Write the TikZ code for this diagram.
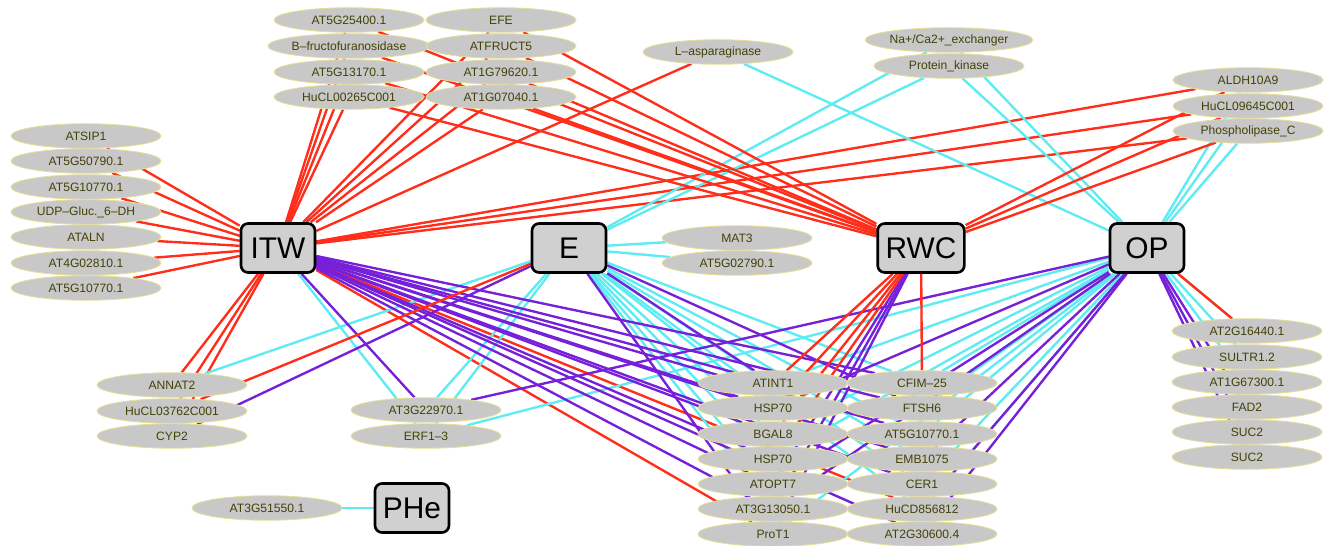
\documentclass[tikz,border=0pt]{standalone}
\usepackage{fontspec}
\setmainfont{Liberation Sans}
\usetikzlibrary{shapes.geometric}
\definecolor{rougelien}{RGB}{255, 45, 25}
\definecolor{cyanlien}{RGB}{95, 235, 242}
\definecolor{violetlien}{RGB}{118, 32, 218}
\definecolor{grisnoeud}{RGB}{200, 200, 200}
\definecolor{bordnoeud}{RGB}{228, 222, 150}
\definecolor{textenoeud}{RGB}{66, 66, 8}
\definecolor{grisboite}{RGB}{208, 208, 208}
\pgfdeclarelayer{fond}
\pgfsetlayers{fond,main}

\begin{document}
\begin{tikzpicture}[x=0.02cm, y=-0.02cm,
    gene/.style={ellipse, draw=bordnoeud, line width=0.5pt, fill=grisnoeud,
      minimum width=3cm, minimum height=0.49cm, inner sep=0pt,
      text=textenoeud, font=\fontsize{6.9}{7}\selectfont},
    trait/.style={rectangle, rounded corners=4pt, draw=black, line width=1.5pt,
      fill=grisboite, minimum width=1.48cm, minimum height=0.98cm,
      inner xsep=4.5pt, font=\fontsize{17}{17}\selectfont},
    lienR/.style={draw=rougelien, line width=1.35pt},
    lienC/.style={draw=cyanlien, line width=1.35pt},
    lienV/.style={draw=violetlien, line width=1.35pt}]
    \useasboundingbox (0,0) rectangle (1324,546);
    % traits
    \node[trait] (itw) at (278,248) {ITW};
    \node[trait] (e) at (569,248) {E};
    \node[trait] (rwc) at (921,248) {RWC};
    \node[trait] (op) at (1147,248) {OP};
    \node[trait] (phe) at (412,508) {PHe};
    % groupe haut
    \node[gene] (g25400) at (349,20) {AT5G25400.1};
    \node[gene] (bfruct) at (349,46) {B--fructofuranosidase};
    \node[gene] (g13170) at (349,72) {AT5G13170.1};
    \node[gene] (hucl265) at (349,97) {HuCL00265C001};
    \node[gene] (efe) at (501,20) {EFE};
    \node[gene] (atfruct) at (501,46) {ATFRUCT5};
    \node[gene] (g79620) at (501,72) {AT1G79620.1};
    \node[gene] (g07040) at (501,97) {AT1G07040.1};
    \node[gene] (lasp) at (718,52) {L--asparaginase};
    \node[gene] (naca) at (949,40) {Na+/Ca2+\_exchanger};
    \node[gene] (pkin) at (949,66) {Protein\_kinase};
    \node[gene] (aldh) at (1248,80) {ALDH10A9};
    \node[gene] (hucl9645) at (1248,106) {HuCL09645C001};
    \node[gene] (plc) at (1248,131) {Phospholipase\_C};
    % groupe gauche
    \node[gene] (atsip) at (86,136) {ATSIP1};
    \node[gene] (g50790) at (86,161) {AT5G50790.1};
    \node[gene] (g10770a) at (86,187) {AT5G10770.1};
    \node[gene] (udp) at (86,212) {UDP--Gluc.\_6--DH};
    \node[gene] (ataln) at (86,237) {ATALN};
    \node[gene] (g02810) at (86,263) {AT4G02810.1};
    \node[gene] (g10770b) at (86,288) {AT5G10770.1};
    % autour de E
    \node[gene] (mat) at (737,238) {MAT3};
    \node[gene] (g02790) at (737,263) {AT5G02790.1};
    \node[gene] (annat) at (172,385) {ANNAT2};
    \node[gene] (hucl3762) at (172,411) {HuCL03762C001};
    \node[gene] (cyp) at (172,436) {CYP2};
    \node[gene] (g22970) at (426,410) {AT3G22970.1};
    \node[gene] (erf) at (426,436) {ERF1--3};
    \node[gene] (g51550) at (267,508) {AT3G51550.1};
    % groupe bas
    \node[gene] (atint) at (773,383) {ATINT1};
    \node[gene] (hspa) at (773,408) {HSP70};
    \node[gene] (bgal) at (773,434) {BGAL8};
    \node[gene] (hspb) at (773,459) {HSP70};
    \node[gene] (atopt) at (773,484) {ATOPT7};
    \node[gene] (g13050) at (773,509) {AT3G13050.1};
    \node[gene] (prot) at (773,534) {ProT1};
    \node[gene] (cfim) at (922,383) {CFIM--25};
    \node[gene] (ftsh) at (922,408) {FTSH6};
    \node[gene] (g10770c) at (922,434) {AT5G10770.1};
    \node[gene] (emb) at (922,459) {EMB1075};
    \node[gene] (cer) at (922,484) {CER1};
    \node[gene] (hucd) at (922,509) {HuCD856812};
    \node[gene] (g30600) at (922,534) {AT2G30600.4};
    % groupe droite
    \node[gene] (g16440) at (1247,331) {AT2G16440.1};
    \node[gene] (sultr) at (1247,357) {SULTR1.2};
    \node[gene] (g67300) at (1247,382) {AT1G67300.1};
    \node[gene] (fad) at (1247,407) {FAD2};
    \node[gene] (suca) at (1247,432) {SUC2};
    \node[gene] (sucb) at (1247,457) {SUC2};
    % liens (sous les noeuds)
    \begin{pgfonlayer}{fond}
      \foreach \n in {atsip,g50790,g10770a,udp,ataln,g02810,g10770b,g25400,bfruct,g13170,hucl265,efe,atfruct,g79620,g07040,lasp,aldh,hucl9645,plc,annat,hucl3762,cyp,prot,hucd}
        \draw[lienR] (itw) -- (\n);
      \foreach \n in {naca,pkin,mat,g02790,g22970,erf,annat,hspa,bgal,hspb,atopt,g13050,cfim,g10770c,emb,cer,hucd}
        \draw[lienC] (e) -- (\n);
      \foreach \n in {lasp,naca,pkin,aldh,hucl9645,plc,erf,g16440,sultr,g67300,atint,bgal,hspb,prot,cfim,ftsh,g10770c,cer,hucd}
        \draw[lienC] (op) -- (\n);
      \draw[lienC] (itw) -- (erf);
      \draw[lienC] (phe) -- (g51550);
      \foreach \n in {g22970,atint,hspa,bgal,hspb,atopt,g13050,cfim,ftsh,g10770c,emb,cer,g30600}
        \draw[lienV] (itw) -- (\n);
      \foreach \n in {cyp,atint,prot,ftsh}
        \draw[lienV] (e) -- (\n);
      \foreach \n in {atopt,g13050,prot}
        \draw[lienV] (rwc) -- (\n);
      \foreach \n in {g22970,hspa,atopt,g13050,emb,g30600,hucd,fad,suca,sucb}
        \draw[lienV] (op) -- (\n);
      \foreach \n in {g25400,bfruct,g13170,hucl265,efe,atfruct,g79620,g07040,aldh,hucl9645,plc,atint,hspa,bgal,hspb,cfim}
        \draw[lienR] (rwc) -- (\n);
      \draw[lienR] (e) -- (hucl3762);
      \draw[lienR] (op) -- (g16440);
    \end{pgfonlayer}
\end{tikzpicture}
\end{document}
